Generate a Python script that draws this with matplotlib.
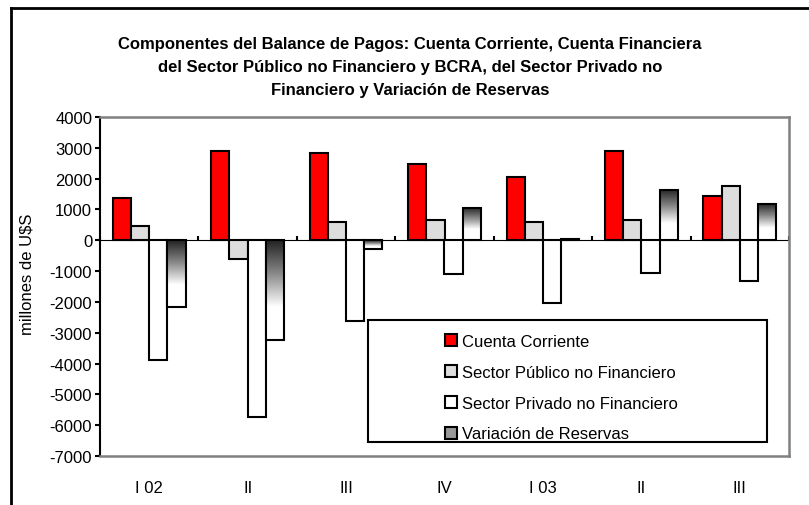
import numpy as np
import matplotlib
matplotlib.use("Agg")
import matplotlib.pyplot as plt
from matplotlib.colors import LinearSegmentedColormap
from matplotlib.patches import Rectangle, Patch
from matplotlib.lines import Line2D

plt.rcParams["font.family"] = ["Liberation Sans", "DejaVu Sans"]
plt.rcParams["axes.unicode_minus"] = False

periodos = ["I 02", "II", "III", "IV", "I 03", "II", "III"]
cuenta_corriente = [1380, 2890, 2830, 2490, 2040, 2890, 1440]
sector_publico = [460, -600, 590, 660, 590, 670, 1770]
sector_privado = [-3870, -5720, -2630, -1100, -2030, -1060, -1310]
var_reservas = [-2160, -3220, -270, 1050, 40, 1640, 1180]

series = ["Cuenta Corriente", "Sector Público no Financiero",
          "Sector Privado no Financiero", "Variación de Reservas"]

fig = plt.figure(figsize=(8.09, 5.06), dpi=100)
ax = fig.add_axes([100 / 809, 49 / 506, 689 / 809, 339 / 506])

x = np.arange(len(periodos))
w = 0.185
ax.bar(x - 1.5 * w, cuenta_corriente, w, color="#ff0000", edgecolor="black", linewidth=1.5, zorder=3)
ax.bar(x - 0.5 * w, sector_publico, w, color="#dddddd", edgecolor="black", linewidth=1.5, zorder=3)
ax.bar(x + 0.5 * w, sector_privado, w, color="white", edgecolor="black", linewidth=1.5, zorder=3)
res = ax.bar(x + 1.5 * w, var_reservas, w, color="none", edgecolor="black", linewidth=1.5, zorder=4)

# degradado oscuro arriba -> blanco abajo
cmap = LinearSegmentedColormap.from_list("res", ["#222222", "#888888", "#ffffff", "#ffffff"])
grad = np.linspace(0, 1, 256).reshape(-1, 1)
for b in res:
    x0, y0 = b.get_x(), b.get_y()
    bw, bh = b.get_width(), b.get_height()
    ybot, ytop = min(y0, y0 + bh), max(y0, y0 + bh)
    im = ax.imshow(grad, cmap=cmap, aspect="auto", extent=[x0, x0 + bw, ybot, ytop],
                   origin="upper", zorder=3, interpolation="bilinear")
    im.set_clip_path(b)

ax.set_xlim(-0.5, len(periodos) - 0.5)
ax.set_ylim(-7000, 4000)
ax.set_yticks(np.arange(-7000, 4001, 1000))
ax.tick_params(axis="y", direction="out", length=3.6, width=1.5, labelsize=12, pad=2)
ax.set_xticks(x)
ax.set_xticklabels(periodos)
ax.tick_params(axis="x", length=0, labelsize=12, pad=17)
ax.set_ylabel("millones de U$S", fontsize=12)
ax.yaxis.set_label_coords(-0.095, 0.54)

for s in ["top", "right", "bottom"]:
    ax.spines[s].set_color("#808080")
    ax.spines[s].set_linewidth(1.8)
ax.spines["left"].set_linewidth(1.5)

# eje de categorías sobre el cero
sec = ax.secondary_xaxis(7 / 11)
sec.set_xticks(np.arange(-0.5, len(periodos), 1.0))
sec.set_xticklabels([])
sec.tick_params(direction="out", length=2.9, width=1.5)
sec.spines["bottom"].set_linewidth(1.8)

# leyenda
ax.add_patch(Rectangle((0.389, 0.041), 0.579, 0.36, transform=ax.transAxes,
                       facecolor="white", edgecolor="black", linewidth=1.5, zorder=6))
handles = [Patch(facecolor="#ff0000", edgecolor="black", linewidth=1.5),
           Patch(facecolor="#dddddd", edgecolor="black", linewidth=1.5),
           Patch(facecolor="white", edgecolor="black", linewidth=1.5),
           Patch(facecolor="#999999", edgecolor="black", linewidth=1.5)]
leg = ax.legend(handles, series, loc="upper left", bbox_to_anchor=(0.5007, 0.360),
                frameon=False, fontsize=12, handlelength=0.72, handleheight=0.72,
                handletextpad=0.3, labelspacing=0.95, borderpad=0, borderaxespad=0)
leg.set_zorder(7)

fig.text(410 / 809, 1 - 37 / 506,
         "Componentes del Balance de Pagos: Cuenta Corriente, Cuenta Financiera\n"
         "del Sector Público no Financiero y BCRA, del Sector Privado no\n"
         "Financiero y Variación de Reservas",
         ha="center", va="top", fontsize=12, fontweight="bold", linespacing=1.68,
         transform=fig.transFigure)

# borde del área del gráfico
fig.add_artist(Line2D([11 / 809, 11 / 809], [0, 1 - 9 / 506], color="black", linewidth=2))
fig.add_artist(Line2D([11 / 809, 1], [1 - 9 / 506, 1 - 9 / 506], color="black", linewidth=2))

fig.savefig("out.png", dpi=100)
